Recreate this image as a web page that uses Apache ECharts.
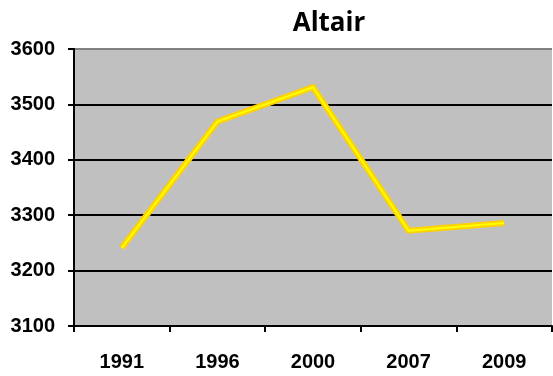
<!DOCTYPE html>
<html>
<head>
<meta charset="utf-8">
<script src="https://cdn.jsdelivr.net/npm/echarts@6/dist/echarts.min.js"></script>
<style>html,body{margin:0;padding:0;background:#fff}#c{width:553px;height:376px}</style>
</head>
<body>
<div id="c"></div>
<script>
var titleText = 'Altair';
var categories = ['1991', '1996', '2000', '2007', '2009'];
var values = [3241, 3469, 3531, 3272, 3286];
var yMin = 3100, yMax = 3600, yStep = 100;

var chart = echarts.init(document.getElementById('c'), null, {renderer: 'canvas'});
chart.setOption({
  animation: false,
  backgroundColor: '#ffffff',
  title: {
    text: titleText, left: 324, top: 6, textAlign: 'center',
    textStyle: {fontFamily: 'Open Sans', fontWeight: 'bold', fontSize: 26, color: '#000'}
  },
  grid: {left: 74, top: 49, right: 1, bottom: 50, show: true, backgroundColor: '#C0C0C0', borderWidth: 0},
  xAxis: {
    type: 'category', data: categories, boundaryGap: true,
    axisLine: {lineStyle: {color: '#000', width: 2}},
    axisTick: {show: true, length: 6, inside: false, lineStyle: {color: '#000', width: 2}},
    axisLabel: {margin: 26, fontFamily: 'Liberation Sans', fontWeight: 'bold', fontSize: 20, color: '#000'},
    splitLine: {show: false}
  },
  yAxis: {
    type: 'value', min: yMin, max: yMax, interval: yStep,
    axisLine: {show: true, lineStyle: {color: '#000', width: 2}},
    axisTick: {show: true, length: 6, lineStyle: {color: '#000', width: 2}},
    axisLabel: {margin: 19, fontFamily: 'Liberation Sans', fontWeight: 'bold', fontSize: 20, color: '#000',
                formatter: function (v) { return String(v); }},
    splitLine: {show: true, lineStyle: {color: ['#000', '#000', '#000', '#000', '#000', '#808080'], width: 2}}
  },
  series: [
    {type: 'line', data: values, symbol: 'none', z: 2,
     lineStyle: {color: '#FFD200', width: 6, join: 'miter'}},
    {type: 'line', data: values, symbol: 'none', z: 3,
     lineStyle: {color: '#FFFF00', width: 2, join: 'miter'}}
  ]
});
</script>
</body>
</html>
